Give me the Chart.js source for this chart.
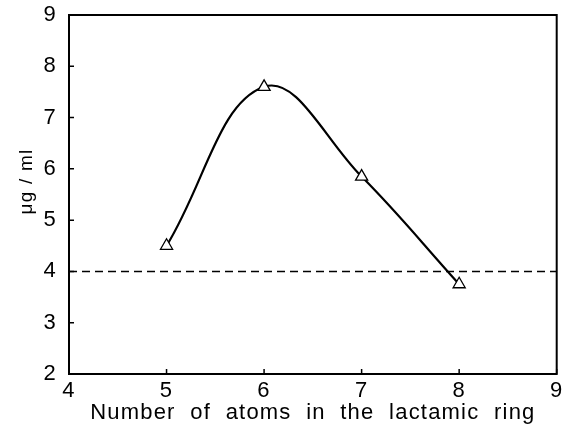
<!DOCTYPE html>
<html>
<head>
<meta charset="utf-8">
<script src="https://cdn.jsdelivr.net/npm/chart.js@4.4.0/dist/chart.umd.min.js"></script>
<style>
  html, body { margin: 0; padding: 0; background: #fff; }
  #wrap { width: 565px; height: 428px; }
</style>
</head>
<body>
<div id="wrap"><canvas id="chart" width="565" height="428"></canvas></div>
<script>
// values
const atoms = [5, 6, 7, 8];
const concentration = [4.5, 7.6, 5.85, 3.75];
const baselineX = [4, 9];
const baselineY = [4, 4];
const xTicks = [4, 5, 6, 7, 8, 9];
const yTicks = [2, 3, 4, 5, 6, 7, 8, 9];

const FONT = '"Liberation Sans", Arial, sans-serif';

// box round the plot plus short inward tick marks
const framePlugin = {
    id: 'frame',
    beforeDraw(chart) {
        // the printed axis title is spaced out a little
        chart.ctx.letterSpacing = '1.2px';
    },
    afterDatasetsDraw(chart) {
        const { ctx, chartArea: a, scales } = chart;
        ctx.save();
        ctx.strokeStyle = '#000';
        ctx.lineWidth = 2;
        ctx.strokeRect(a.left, a.top, a.right - a.left, a.bottom - a.top);
        ctx.lineWidth = 1.5;
        ctx.beginPath();
        yTicks.forEach(v => {
            const y = scales.y.getPixelForValue(v);
            ctx.moveTo(a.left, y);
            ctx.lineTo(a.left + 5, y);
        });
        xTicks.forEach(v => {
            const x = scales.x.getPixelForValue(v);
            ctx.moveTo(x, a.bottom);
            ctx.lineTo(x, a.bottom - 5);
        });
        ctx.stroke();
        ctx.restore();
    },
    afterDraw(chart) {
        chart.ctx.letterSpacing = '0px';
    }
};

new Chart(document.getElementById('chart'), {
    type: 'line',
    data: {
        datasets: [
            {
                data: atoms.map((x, i) => ({ x: x, y: concentration[i] })),
                borderColor: '#000',
                borderWidth: 2.2,
                tension: 0.4,
                pointStyle: 'triangle',
                pointRadius: 7,
                pointBackgroundColor: '#fff',
                pointBorderColor: '#000',
                pointBorderWidth: 1.3
            },
            {
                data: baselineX.map((x, i) => ({ x: x, y: baselineY[i] })),
                borderColor: '#000',
                borderWidth: 1.5,
                borderDash: [8, 5],
                pointRadius: 0
            }
        ]
    },
    options: {
        responsive: false,
        animation: false,
        layout: { padding: { top: 15, right: 6, left: 0, bottom: 0 } },
        plugins: { legend: { display: false }, tooltip: { enabled: false } },
        scales: {
            x: {
                type: 'linear',
                min: 4,
                max: 9,
                afterBuildTicks(scale) { scale.ticks = xTicks.map(v => ({ value: v })); },
                afterFit(scale) {
                    scale.height = 54;
                    scale.paddingLeft = 0;
                    scale.paddingRight = 0;
                },
                grid: { display: false, drawTicks: false },
                border: { display: false },
                ticks: { color: '#000', padding: 4, font: { family: FONT, size: 22 } },
                title: {
                    display: true,
                    text: 'Number  of  atoms  in  the  lactamic  ring',
                    color: '#000',
                    padding: { top: 0, bottom: 2 },
                    font: { family: FONT, size: 22 }
                }
            },
            y: {
                type: 'linear',
                min: 2,
                max: 9,
                afterBuildTicks(scale) { scale.ticks = yTicks.map(v => ({ value: v })); },
                afterFit(scale) {
                    scale.width = 69;
                    scale.paddingTop = 0;
                    scale.paddingBottom = 0;
                },
                grid: { display: false, drawTicks: false },
                border: { display: false },
                ticks: { color: '#000', padding: 12, font: { family: FONT, size: 22 } },
                title: {
                    display: true,
                    text: '    μg / ml',
                    color: '#000',
                    padding: { top: 15, bottom: 0 },
                    font: { family: FONT, size: 19 }
                }
            }
        }
    },
    plugins: [framePlugin]
});
</script>
</body>
</html>
